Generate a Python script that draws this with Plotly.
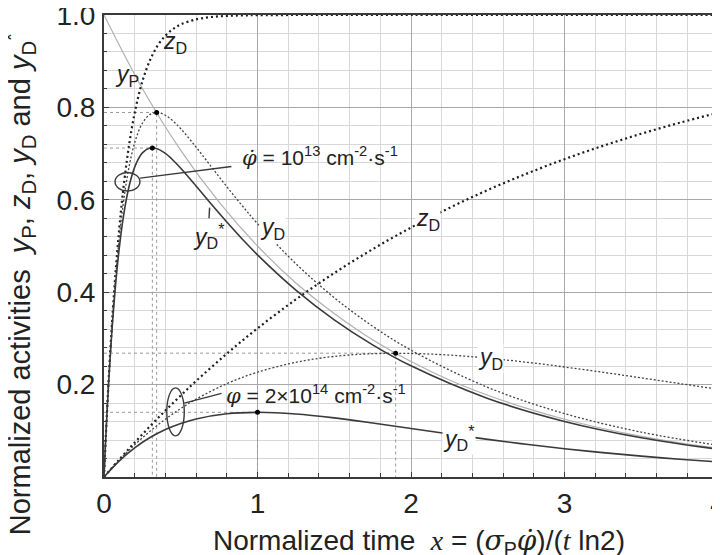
import plotly.graph_objects as go

# ---------------- data ----------------
# parent activity y_P
xp = [0, 0.25, 0.5, 0.75, 1.0, 1.25, 1.5, 1.75, 2.0, 2.25, 2.5, 2.75, 3.0, 3.25, 3.5, 3.75, 4.0]
yP = [1.0, 0.841, 0.707, 0.595, 0.5, 0.420, 0.354, 0.297, 0.25, 0.210, 0.177, 0.149, 0.125, 0.105, 0.088, 0.074, 0.0625]

# flux 1e13 (fast curves)
x1 = [0, 0.01, 0.02, 0.03, 0.04, 0.05, 0.06, 0.08, 0.10, 0.12, 0.15, 0.18, 0.21, 0.25, 0.30,
      0.35, 0.40, 0.45, 0.50, 0.60, 0.70, 0.80, 0.90, 1.0, 1.25, 1.5, 1.75, 2.0, 2.5, 3.0, 3.5, 4.0]
zD1 = [0, 0.0747, 0.1438, 0.2078, 0.2670, 0.3217, 0.3724, 0.4626, 0.5399, 0.6061, 0.6879, 0.7528,
       0.8042, 0.8564, 0.9026, 0.9340, 0.9552, 0.9696, 0.9794, 0.9905, 0.9956, 0.9980, 0.9991,
       0.9996, 1.0, 1.0, 1.0, 1.0, 1.0, 1.0, 1.0, 1.0]
yD1 = [0, 0.0744, 0.1428, 0.2056, 0.2631, 0.3159, 0.3641, 0.4488, 0.5193, 0.5779, 0.6469, 0.6978,
       0.7342, 0.7657, 0.7849, 0.7890, 0.7830, 0.7704, 0.7538, 0.7140, 0.6711, 0.6284, 0.5874,
       0.5485, 0.4617, 0.3882, 0.3264, 0.2745, 0.1941, 0.1373, 0.0971, 0.0686]
yD1s = [0, 0.0741, 0.1414, 0.2026, 0.2581, 0.3085, 0.3542, 0.4329, 0.4971, 0.5491, 0.6087, 0.6506,
        0.6790, 0.7015, 0.7121, 0.7101, 0.7003, 0.6857, 0.6683, 0.6298, 0.5902, 0.5518, 0.5153,
        0.4809, 0.4046, 0.3402, 0.2861, 0.2406, 0.1701, 0.1203, 0.0850, 0.0601]

# flux 2e14 (slow curves)
x2 = [0, 0.1, 0.2, 0.3, 0.4, 0.5, 0.6, 0.8, 1.0, 1.25, 1.5, 1.75, 2.0, 2.25,
      2.5, 2.75, 3.0, 3.25, 3.5, 3.75, 4.0]
zD2 = [0, 0.0381, 0.0747, 0.1099, 0.1438, 0.1764, 0.2078, 0.2669, 0.3217, 0.3844,
       0.4414, 0.4930, 0.5399, 0.5825, 0.6211, 0.6561, 0.6879, 0.7168, 0.7430, 0.7667, 0.7883]
yD2 = [0, 0.0368, 0.0697, 0.0991, 0.1252, 0.1482, 0.1686, 0.2020, 0.2269, 0.2483,
       0.2610, 0.2669, 0.2674, 0.2639, 0.2573, 0.2485, 0.2381, 0.2267, 0.2146, 0.2023, 0.1899]
yD2s = [0, 0.0350, 0.0631, 0.0854, 0.1028, 0.1160, 0.1257, 0.1369, 0.1400, 0.1365,
        0.1280, 0.1170, 0.1050, 0.0930, 0.0815, 0.0709, 0.0612, 0.0527, 0.0451, 0.0385, 0.0328]

# marked maxima
peak_x = [0.343, 0.315, 1.9, 1.0]
peak_y = [0.789, 0.712, 0.268, 0.140]

# ellipses (centre x, centre y, half-width, half-height)
ellipses = [(0.153, 0.639, 0.081, 0.020), (0.466, 0.141, 0.057, 0.052)]
# leader lines (x0, y0, x1, y1)
leaders = [(0.235, 0.647, 0.83, 0.672), (0.523, 0.160, 0.766, 0.181)]
# short arrow for y_D* (1e13)
arrow_tick = (0.684, 0.560, 0.688, 0.583)

xticks = [0, 1, 2, 3, 4]
yticks = [0.2, 0.4, 0.6, 0.8, 1.0]
yticktext = ["0.2", "0.4", "0.6", "0.8", "1.0"]

FONT = "Liberation Sans, Arial, sans-serif"
DARK = "#3a3a3a"
SERIF_I = "font-family:'DejaVu Serif';font-style:italic"
LSERIF_I = "font-family:'Liberation Serif';font-style:italic"
PHIDOT = f"<span style=\"{SERIF_I}\">φ\u0307</span>"
PHI = f"<span style=\"{SERIF_I}\">φ</span>"
SIGMA = f"<span style=\"{SERIF_I}\">σ</span>"

fig = go.Figure()

# guide lines to maxima
for px, py in zip(peak_x, peak_y):
    fig.add_trace(go.Scatter(x=[0, px, px], y=[py, py, 0], mode="lines",
                             line=dict(color="#9a9a9a", width=1, dash="dot"),
                             hoverinfo="skip", showlegend=False))

# parent
fig.add_trace(go.Scatter(x=xp, y=yP, mode="lines", line=dict(color="#b0b0b0", width=1.2, shape="spline"),
                         showlegend=False))
# z_D curves (bold dots)
for xx, yy in [(x1, zD1), (x2, zD2)]:
    fig.add_trace(go.Scatter(x=xx, y=yy, mode="lines",
                             line=dict(color="#1e1e1e", width=2.2, dash="2px,3px", shape="spline"),
                             showlegend=False))
# y_D curves (fine dots)
for xx, yy in [(x1, yD1), (x2, yD2)]:
    fig.add_trace(go.Scatter(x=xx, y=yy, mode="lines",
                             line=dict(color="#444444", width=1.3, dash="2px,2px", shape="spline"),
                             showlegend=False))
# y_D* curves (solid)
for xx, yy in [(x1, yD1s), (x2, yD2s)]:
    fig.add_trace(go.Scatter(x=xx, y=yy, mode="lines",
                             line=dict(color=DARK, width=1.6, shape="spline"),
                             showlegend=False))
# maxima markers
fig.add_trace(go.Scatter(x=peak_x, y=peak_y, mode="markers",
                         marker=dict(color="black", size=5), showlegend=False))

shapes = []
for cx, cy, rx, ry in ellipses:
    shapes.append(dict(type="circle", xref="x", yref="y", x0=cx - rx, x1=cx + rx, y0=cy - ry, y1=cy + ry,
                       line=dict(color=DARK, width=1.4)))
for x0, y0, x1_, y1_ in leaders + [arrow_tick]:
    shapes.append(dict(type="line", xref="x", yref="y", x0=x0, y0=y0, x1=x1_, y1=y1_,
                       line=dict(color=DARK, width=1.4)))

def lab(x, y, text, size=21, xanchor="center", bg="white"):
    return dict(x=x, y=y, xref="x", yref="y", text=text, showarrow=False, xanchor=xanchor,
                yanchor="middle", font=dict(family=FONT, size=size, color="#222"),
                bgcolor=bg, borderpad=0)

YP = "<i>y</i><sub>P</sub>"
ZD = "<i>z</i><sub>D</sub>"
YD = "<i>y</i><sub>D</sub>"
YDS = "<i>y</i><sub>D</sub><sup>*</sup>"

annotations = [
    lab(0.15, 0.868, YP, size=23, bg="rgba(0,0,0,0)"),
    lab(0.46, 0.94, ZD, size=23, bg="rgba(0,0,0,0)"),
    lab(0.89, 0.693, PHIDOT + " = 10<sup>13</sup> cm<sup>-2</sup>·s<sup>-1</sup>", xanchor="left",
        bg="rgba(0,0,0,0)"),
    lab(0.684, 0.522, YDS, size=23, bg="rgba(0,0,0,0)"),
    lab(1.095, 0.537, YD, size=23),
    lab(2.11, 0.558, ZD, size=23),
    lab(2.52, 0.257, YD, size=23),
    lab(2.31, 0.085, YDS, size=23),
    lab(0.788, 0.178, PHI + " = 2×10<sup>14</sup> cm<sup>-2</sup>·s<sup>-1</sup>", xanchor="left",
        bg="rgba(0,0,0,0)"),
    # axis titles
    dict(xref="paper", yref="paper", x=0.513, y=-0.14, xanchor="center", yanchor="middle",
         showarrow=False, font=dict(family=FONT, size=28, color="#222"),
         text=f"Normalized time  <span style=\"{LSERIF_I}\">x</span> = (" + SIGMA + "<sub>P</sub>"
              + PHIDOT + f")/(<span style=\"{LSERIF_I}\">t</span> ln2)"),
    dict(xref="paper", yref="paper", x=-0.137, y=0.417, xanchor="center", yanchor="middle",
         showarrow=False, textangle=-90, font=dict(family=FONT, size=29, color="#222"),
         text=f"Normalized activities  {YP}, {ZD}, {YD} and {YDS}"),
]

# the page body adds an 8 px offset, so the figure is 8 px smaller than the window
fig.update_layout(
    width=712, height=547,
    margin=dict(l=96, r=2, t=7, b=78),
    plot_bgcolor="white", paper_bgcolor="white",
    font=dict(family=FONT, size=24, color="#222"),
    shapes=shapes, annotations=annotations,
    xaxis=dict(range=[0, 4], tickvals=xticks, ticks="inside", ticklen=5, tickcolor=DARK,
               showgrid=True, gridcolor="#a8a8a8", gridwidth=1, automargin=False,
               minor=dict(dtick=0.2, showgrid=True, gridcolor="#d8d8d8", ticks="inside", ticklen=4,
                          tickcolor=DARK),
               showline=True, linecolor=DARK, linewidth=2, mirror=True, zeroline=False,
               tickfont=dict(size=28), ticklabelstandoff=0, ticklabeloverflow="allow"),
    yaxis=dict(range=[0, 1], tickvals=yticks, ticktext=yticktext, ticks="inside", ticklen=5,
               tickcolor=DARK, showgrid=True, gridcolor="#a8a8a8", gridwidth=1, automargin=False,
               minor=dict(dtick=0.04, showgrid=True, gridcolor="#d8d8d8", ticks="inside", ticklen=3,
                          tickcolor=DARK),
               showline=True, linecolor=DARK, linewidth=2, mirror=True, zeroline=False,
               tickfont=dict(size=28), ticklabelstandoff=1, ticklabeloverflow="allow"),
)

fig.write_html("out.html")
